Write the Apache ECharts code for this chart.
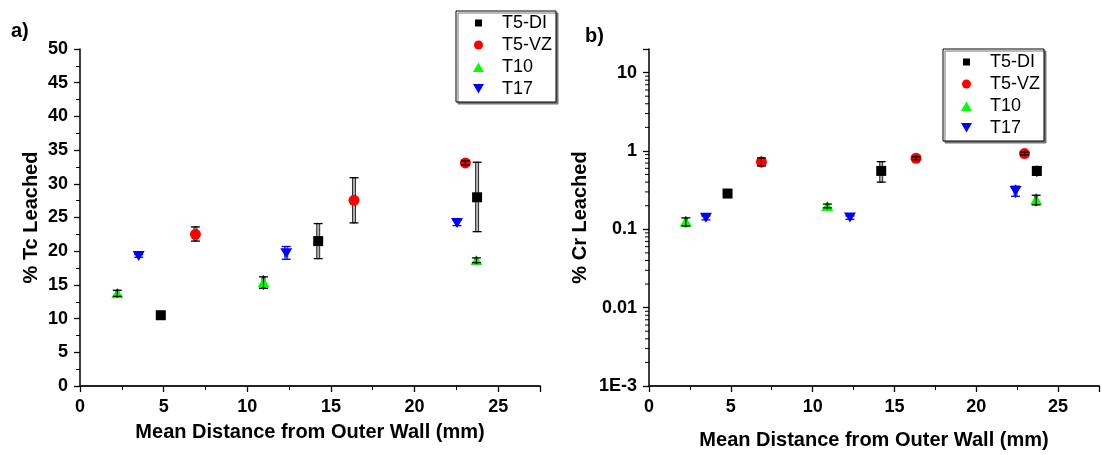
<!DOCTYPE html>
<html><head><meta charset="utf-8">
<script src="https://cdn.jsdelivr.net/npm/echarts@6/dist/echarts.min.js"></script>
<style>html,body{margin:0;padding:0;background:#fff}#c{width:1102px;height:455px}</style>
</head><body><div id="c"></div>
<script>
// ---------- data ----------
const seriesNames = ['T5-DI', 'T5-VZ', 'T10', 'T17'];
const seriesColors = ['#000000', '#ff0000', '#00ff00', '#0000ff'];
const errColors = ['#000000', '#000000', '#000000', '#0000ff'];

// a) % Tc Leached : [mean distance (mm), % leached]
const tcDI  = [[4.83, 10.5], [14.24, 21.5], [23.74, 28.0]];
const tcVZ  = [[6.9, 22.5], [16.38, 27.55], [23.04, 33.1]];
const tcT10 = [[2.23, 13.75], [10.97, 15.4], [23.7, 18.7]];
const tcT17 = [[3.51, 19.3], [12.33, 19.7], [22.54, 24.2]];
// error bars [low, high]
const tcDIErr  = [[10.2, 10.8], [18.9, 24.1], [22.9, 33.2]];
const tcVZErr  = [[21.5, 23.6], [24.2, 30.9], [32.8, 33.4]];
const tcT10Err = [[13.3, 14.2], [14.5, 16.2], [18.3, 19.0]];
const tcT17Err = [[19.1, 19.5], [18.8, 20.7], [23.8, 24.6]];

// b) % Cr Leached
const crDI  = [[4.8, 0.286], [14.19, 0.556], [23.7, 0.556]];
const crVZ  = [[6.87, 0.724], [16.32, 0.807], [22.95, 0.926]];
const crT10 = [[2.25, 0.126], [10.9, 0.199], [23.66, 0.24]];
const crT17 = [[3.48, 0.14], [12.28, 0.141], [22.4, 0.309]];
const crDIErr  = [[0.268, 0.305], [0.40, 0.73], [0.49, 0.625]];
const crVZErr  = [[0.644, 0.814], [0.775, 0.84], [0.89, 0.965]];
const crT10Err = [[0.11, 0.14], [0.188, 0.21], [0.205, 0.272]];
const crT17Err = [[0.132, 0.148], [0.134, 0.148], [0.264, 0.355]];

// axis tick values
const xTickInterval = 5;
const tcTickInterval = 5;
const crDecades = [0.001, 0.01, 0.1, 1, 10];
const logMinorMultipliers = [2, 3, 4, 5, 6, 7, 8, 9];

// ---------- chart ----------
const FONT = 'Liberation Sans, Arial, Helvetica, sans-serif';
const tcSets = [tcDI, tcVZ, tcT10, tcT17];
const tcErrs = [tcDIErr, tcVZErr, tcT10Err, tcT17Err];
const crSets = [crDI, crVZ, crT10, crT17];
const crErrs = [crDIErr, crVZErr, crT10Err, crT17Err];

const downTri = 'path://M0,0L2,0L1,1.732Z';
const symbols = ['rect', 'circle', 'triangle', downTri];
const symbolSizes = [10, 11, [12, 10], [12, 10]];
const legendIcons = [
  'path://M0,0M11,11M2,2L9,2L9,9L2,9Z',
  'path://M0,0M11,11M1,5.5A4.5,4.5,0,1,1,10,5.5A4.5,4.5,0,1,1,1,5.5Z',
  'path://M0,0M11,11M5.5,1L11,10.5L0,10.5Z',
  'path://M0,0M11,11M0,0.5L11,0.5L5.5,10Z'
];

function barRender(color) {
  return function (params, api) {
    const x = api.value(0), lo = api.value(1), hi = api.value(2);
    const pLo = api.coord([x, lo]), pHi = api.coord([x, hi]);
    return { type: 'rect', shape: { x: pLo[0] - 1.5, y: pHi[1], width: 3, height: Math.max(pLo[1] - pHi[1], 0.5) },
             style: { fill: '#b0b0b0', stroke: color, lineWidth: 0.8 } };
  };
}
function capRender(color) {
  return function (params, api) {
    const x = api.value(0), lo = api.value(1), hi = api.value(2);
    const pLo = api.coord([x, lo]), pHi = api.coord([x, hi]);
    const cap = 4.5;
    const children = [
      { type: 'line', shape: { x1: pHi[0] - cap, y1: pHi[1], x2: pHi[0] + cap, y2: pHi[1] }, style: { stroke: color, lineWidth: 1.3 } },
      { type: 'line', shape: { x1: pLo[0] - cap, y1: pLo[1], x2: pLo[0] + cap, y2: pLo[1] }, style: { stroke: color, lineWidth: 1.3 } }
    ];
    if (pLo[1] - pHi[1] < 12) {
      children.push({ type: 'line', shape: { x1: pLo[0], y1: pLo[1] + 1.5, x2: pHi[0], y2: pHi[1] - 1.5 }, style: { stroke: color, lineWidth: 1.2 } });
    }
    return { type: 'group', children: children };
  };
}

const series = [];
[0, 1].forEach(function (g) {
  const sets = g === 0 ? tcSets : crSets;
  seriesNames.forEach(function (name, i) {
    series.push({
      name: name, type: 'scatter', xAxisIndex: g, yAxisIndex: g,
      symbol: symbols[i], symbolSize: symbolSizes[i],
      itemStyle: { color: seriesColors[i], opacity: 1 },
      data: sets[i], z: 2
    });
  });
});
[0, 1].forEach(function (g) {
  const sets = g === 0 ? tcSets : crSets;
  const errs = g === 0 ? tcErrs : crErrs;
  seriesNames.forEach(function (name, i) {
    const errData = sets[i].map(function (p, k) { return [p[0], errs[i][k][0], errs[i][k][1]]; });
    series.push({
      name: name, type: 'custom', xAxisIndex: g, yAxisIndex: g,
      itemStyle: { color: seriesColors[i] },
      renderItem: barRender(errColors[i]), silent: true, z: 1,
      encode: { x: 0, y: [1, 2] }, data: errData
    });
    series.push({
      name: name, type: 'custom', xAxisIndex: g, yAxisIndex: g,
      itemStyle: { color: seriesColors[i] },
      renderItem: capRender(errColors[i]), silent: true, z: 3,
      encode: { x: 0, y: [1, 2] }, data: errData
    });
  });
});

// logarithmic minor ticks on the Cr axis
const crMinorTicks = [];
crDecades.slice(0, 4).forEach(function (d) {
  logMinorMultipliers.forEach(function (m) { crMinorTicks.push([0, d * m]); });
});
series.push({
  type: 'custom', xAxisIndex: 1, yAxisIndex: 1, silent: true, z: 5, clip: false,
  renderItem: function (params, api) {
    const p = api.coord([api.value(0), api.value(1)]);
    return { type: 'line', shape: { x1: p[0] - 4, y1: p[1], x2: p[0], y2: p[1] }, style: { stroke: '#000', lineWidth: 1 } };
  },
  data: crMinorTicks
});

const axisLabelStyle = { fontSize: 18, fontWeight: 'bold', color: '#000', fontFamily: FONT };
const nameStyle = { fontSize: 20, fontWeight: 'bold', color: '#000', fontFamily: FONT };

function xAxis(g, gap) {
  return {
    gridIndex: g, type: 'value', min: 0, max: 27.5, interval: xTickInterval,
    name: 'Mean Distance from Outer Wall (mm)', nameLocation: 'middle', nameGap: gap, nameTextStyle: nameStyle,
    axisLine: { show: true, onZero: false, lineStyle: { color: '#222', width: 2 } },
    axisTick: { show: true, length: 6, lineStyle: { color: '#000', width: 1.3 } },
    minorTick: { show: true, splitNumber: 2, length: 4, lineStyle: { color: '#000', width: 1 } },
    splitLine: { show: false },
    axisLabel: Object.assign({ margin: 12, formatter: function (v) { return v % xTickInterval === 0 ? String(v) : ''; } }, axisLabelStyle)
  };
}

const legendData = seriesNames.map(function (n, i) { return { name: n, icon: legendIcons[i] }; });
function legend(left, top, pad) {
  return {
    orient: 'vertical', left: left, top: top, data: legendData, selectedMode: false,
    itemWidth: 25, itemHeight: 11, itemGap: 4, padding: pad,
    borderColor: '#000', borderWidth: 1, borderRadius: 0, backgroundColor: '#fff',
    shadowColor: '#777', shadowOffsetX: 2, shadowOffsetY: 2, shadowBlur: 0,
    textStyle: { fontSize: 18, color: '#000', fontFamily: FONT, padding: [0, 0, 0, 6] }
  };
}

const option = {
  animation: false,
  backgroundColor: '#fff',
  title: [
    { text: 'a)', left: 11, top: 21, padding: 0, textStyle: { fontSize: 20, fontWeight: 'bold', color: '#000', fontFamily: FONT } },
    { text: 'b)', left: 585, top: 26, padding: 0, textStyle: { fontSize: 20, fontWeight: 'bold', color: '#000', fontFamily: FONT } }
  ],
  legend: [legend(456, 11, [3, 4, 4, 17]), legend(943, 49, [4, 4, 4, 18])],
  grid: [
    { left: 80, top: 49, width: 460, height: 337 },
    { left: 649, top: 49, width: 461, height: 337 }
  ],
  xAxis: [xAxis(0, 36), xAxis(1, 44)],
  yAxis: [
    {
      gridIndex: 0, type: 'value', min: 0, max: 50, interval: tcTickInterval,
      name: '% Tc Leached', nameLocation: 'middle', nameGap: 39, nameTextStyle: nameStyle,
      axisLine: { show: true, lineStyle: { color: '#000', width: 1.5 } },
      axisTick: { show: true, length: 6, lineStyle: { color: '#000', width: 1.3 } },
      minorTick: { show: true, splitNumber: 2, length: 4, lineStyle: { color: '#000', width: 1 } },
      splitLine: { show: false },
      axisLabel: Object.assign({ margin: 12 }, axisLabelStyle)
    },
    {
      gridIndex: 1, type: 'log', logBase: 10, min: crDecades[0], max: 20,
      name: '% Cr Leached', nameLocation: 'middle', nameGap: 59, nameTextStyle: nameStyle,
      axisLine: { show: true, lineStyle: { color: '#000', width: 1.5 } },
      axisTick: { show: true, length: 6, lineStyle: { color: '#000', width: 1.3 } },
      splitLine: { show: false },
      axisLabel: Object.assign({
        margin: 12,
        formatter: function (v) {
          const e = Math.log10(v), r = Math.round(e);
          if (Math.abs(e - r) > 1e-6) return '';
          if (r === -3) return '1E-3';
          return r < 0 ? Math.pow(10, r).toFixed(-r) : String(Math.pow(10, r));
        }
      }, axisLabelStyle)
    }
  ],
  series: series
};

const chart = echarts.init(document.getElementById('c'), null, { renderer: 'canvas' });
chart.setOption(option);
</script>
</body></html>
